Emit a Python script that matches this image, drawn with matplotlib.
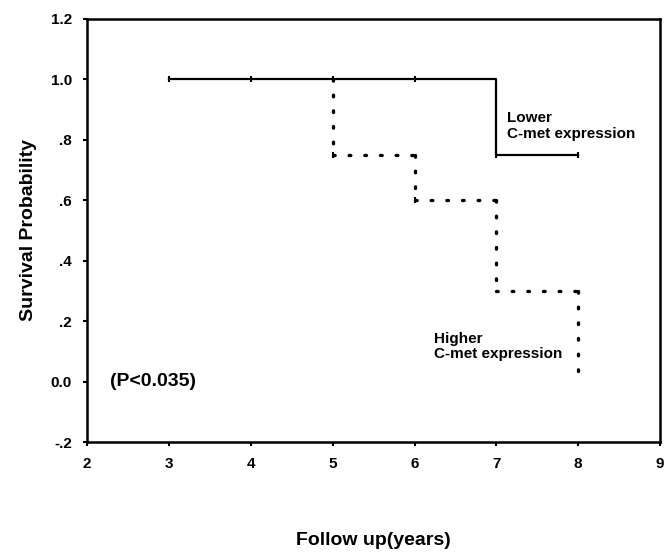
import matplotlib
matplotlib.use('Agg')
import matplotlib.pyplot as plt

plt.rcParams['font.family'] = ['Liberation Sans', 'DejaVu Sans']
plt.rcParams['font.weight'] = 'bold'
plt.rcParams['axes.labelweight'] = 'bold'

# Kaplan-Meier step curves (time, survival)
low_t = [3, 7, 7, 8]
low_s = [1.0, 1.0, 0.75, 0.75]
low_cens_t = [3, 4, 5, 6, 7, 8]
low_cens_s = [1.0, 1.0, 1.0, 1.0, 0.75, 0.75]

high_t = [5, 5, 6, 6, 7, 7, 8, 8]
high_s = [1.0, 0.75, 0.75, 0.6, 0.6, 0.3, 0.3, 0.0]
high_cens_t = [5, 6]
high_cens_s = [0.75, 0.6]

xticks = [2, 3, 4, 5, 6, 7, 8, 9]
yticks = [-0.2, 0.0, 0.2, 0.4, 0.6, 0.8, 1.0, 1.2]
ylabels = ['-.2', '0.0', '.2', '.4', '.6', '.8', '1.0', '1.2']

fig = plt.figure(figsize=(6.66, 5.54), dpi=100)
ax = fig.add_axes([0.131, 0.202, 0.860, 0.764])

ax.plot(low_t, low_s, color='black', lw=1.6)
ax.plot(low_cens_t, low_cens_s, ls='none', marker='|', ms=5, mew=1.5, color='black')

# dotted curve drawn segment by segment so every corner gets a dot
for i in range(len(high_t) - 1):
    ax.plot(high_t[i:i + 2], high_s[i:i + 2], color='black', lw=2.4,
            ls=(0, (0.5, 4.2)), dash_capstyle='round')
ax.plot(high_cens_t, high_cens_s, ls='none', marker='|', ms=5, mew=1.5, color='black')

ax.text(7.13, 0.895, 'Lower\nC-met expression', fontsize=11, va='top', ha='left', linespacing=1.15)
ax.text(6.24, 0.165, 'Higher\nC-met expression', fontsize=11, va='top', ha='left', linespacing=1.15)
ax.text(2.28, 0.0, '(P<0.035)', fontsize=14, va='center', ha='left')

ax.set_xlim(2, 9)
ax.set_ylim(-0.2, 1.2)
ax.set_xticks(xticks)
ax.set_yticks(yticks)
ax.set_yticklabels(ylabels)
ax.tick_params(direction='out', length=3, width=1.5, labelsize=11, pad=8)
for s in ax.spines.values():
    s.set_linewidth(1.8)

ax.set_xlabel('Follow up(years)', fontsize=14, labelpad=44)
ax.set_ylabel('Survival Probability', fontsize=14, labelpad=10)

fig.savefig('out.png', dpi=100)
